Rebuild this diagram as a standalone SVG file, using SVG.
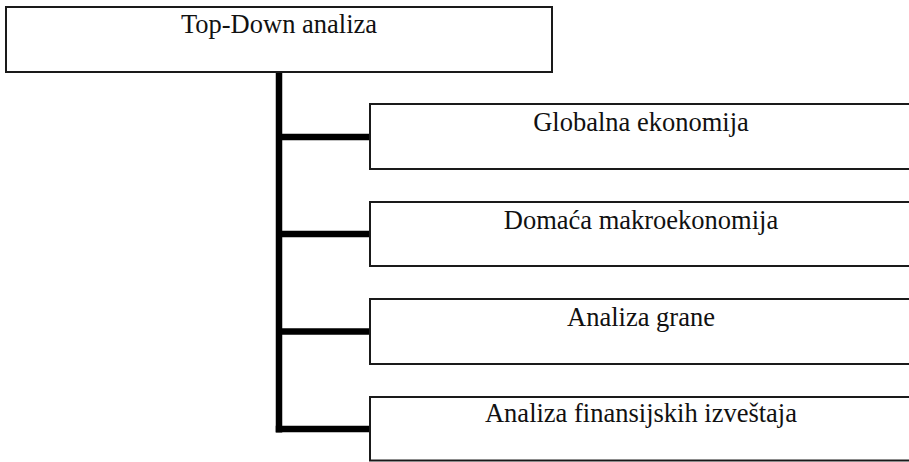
<svg xmlns="http://www.w3.org/2000/svg" width="909" height="462" viewBox="0 0 909 462">
  <style>
    .box { fill: #ffffff; stroke: #1a1a1a; stroke-width: 2; }
    .label { font-family: "Liberation Serif", "Times New Roman", serif; font-size: 26.5px; fill: #111111; text-anchor: middle; }
    .link { fill: none; stroke: #000000; stroke-width: 6.5; stroke-linecap: butt; stroke-linejoin: miter; }
  </style>
  <rect width="909" height="462" fill="#ffffff"/>

  <!-- tree connectors -->
  <g id="connectors">
    <path class="link" d="M279 72 V432.5"/>
    <path class="link" d="M279 137 H370"/>
    <path class="link" d="M279 234 H370"/>
    <path class="link" d="M279 331.5 H370"/>
    <path class="link" d="M275.75 429 H370"/>
  </g>

  <g id="root">
    <rect class="box" x="6" y="7" width="546" height="65"/>
    <text class="label" x="279" y="33">Top-Down analiza</text>
  </g>

  <g id="globalna">
    <rect class="box" x="370" y="104" width="545" height="65"/>
    <text class="label" x="641" y="131">Globalna ekonomija</text>
  </g>

  <g id="domaca">
    <rect class="box" x="370" y="202" width="545" height="64"/>
    <text class="label" x="641" y="228.5">Domaća makroekonomija</text>
  </g>

  <g id="grana">
    <rect class="box" x="370" y="299" width="545" height="65"/>
    <text class="label" x="641" y="326">Analiza grane</text>
  </g>

  <g id="izvestaji">
    <rect class="box" x="370" y="397" width="545" height="63.5"/>
    <text class="label" x="641" y="422">Analiza finansijskih izveštaja</text>
  </g>
</svg>
